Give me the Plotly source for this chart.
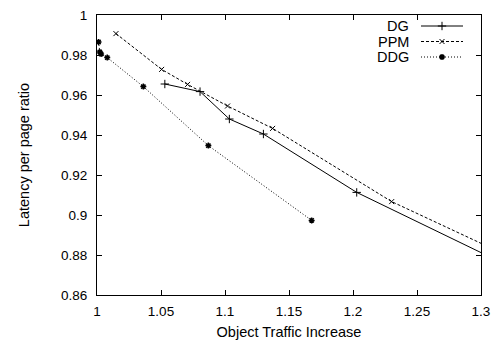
import plotly.graph_objects as go

# ---- data ----
dg_x = [1.053, 1.0805, 1.1034, 1.130, 1.2029, 1.35]
dg_y = [0.9655, 0.9617, 0.9480, 0.9405, 0.9113, 0.8657]

ppm_x = [1.0148, 1.0505, 1.0708, 1.1020, 1.1372, 1.2302, 1.35]
ppm_y = [0.9907, 0.9728, 0.9653, 0.9545, 0.9433, 0.9067, 0.8709]

ddg_x = [1.0012, 1.0022, 1.0032, 1.0080, 1.0362, 1.0870, 1.1677]
ddg_y = [0.9865, 0.9815, 0.9805, 0.9787, 0.9642, 0.9347, 0.8973]

x_ticks = [1, 1.05, 1.1, 1.15, 1.2, 1.25, 1.3]
y_ticks = [0.86, 0.88, 0.9, 0.92, 0.94, 0.96, 0.98, 1]

series_names = ["DG", "PPM", "DDG"]
dashes = ["solid", "3px,2px", "1px,2px"]
symbols = ["cross-thin-open", "x-thin-open", "asterisk-open"]
msizes = [6, 5, 5]
mwidths = [1, 1, 1.5]

FONT = "Liberation Sans, Arial, Helvetica, sans-serif"
TICK_SIZE = 13.5
TEXT_SIZE = 14.5

fig = go.Figure()
data = [(dg_x, dg_y), (ppm_x, ppm_y), (ddg_x, ddg_y)]
for (xs, ys), name, d, s, ms, mw in zip(data, series_names, dashes, symbols, msizes, mwidths):
    fig.add_trace(go.Scatter(
        x=xs, y=ys, mode="lines+markers", name=name,
        line=dict(color="black", width=1, dash=d),
        marker=dict(symbol=s, size=ms, color="black", line=dict(color="black", width=mw)),
        cliponaxis=True, showlegend=False,
    ))

# ---- gnuplot-style key (text left, sample right) on a pixel overlay axis ----
key_rows = [11, 26.5, 42]   # pixel offsets from plot top
for name, d, s, ms, mw, ky in zip(series_names, dashes, symbols, msizes, mwidths, key_rows):
    fig.add_trace(go.Scatter(
        x=[324, 366], y=[ky, ky], xaxis="x2", yaxis="y2", mode="lines",
        line=dict(color="black", width=1, dash=d), showlegend=False, hoverinfo="skip"))
    fig.add_trace(go.Scatter(
        x=[345], y=[ky], xaxis="x2", yaxis="y2", mode="markers",
        marker=dict(symbol=s, size=ms, color="black", line=dict(color="black", width=mw)),
        showlegend=False, hoverinfo="skip"))
    fig.add_annotation(x=314, y=ky, xref="x2", yref="y2", text=name, showarrow=False,
                       xanchor="right", yanchor="middle",
                       font=dict(family=FONT, size=TEXT_SIZE, color="black"))

axis_common = dict(
    showline=True, linecolor="black", linewidth=1, mirror="allticks",
    ticks="inside", ticklen=5, tickcolor="black", tickwidth=1,
    showgrid=False, zeroline=False, automargin=False,
    tickfont=dict(family=FONT, size=TICK_SIZE, color="black"),
)

fig.update_layout(
    width=500, height=347,
    margin=dict(l=97, r=19, t=15, b=52),
    paper_bgcolor="white", plot_bgcolor="white",
    font=dict(family=FONT, size=TICK_SIZE, color="black"),
    xaxis=dict(range=[1, 1.3], tickvals=x_ticks, ticklabelstandoff=4,
               title=dict(text="Object Traffic Increase", standoff=8,
                          font=dict(family=FONT, size=TEXT_SIZE, color="black")),
               **axis_common),
    yaxis=dict(range=[0.86, 1], tickvals=y_ticks, ticklabelstandoff=6,
               title=dict(text="Latency per page ratio", standoff=27,
                          font=dict(family=FONT, size=TEXT_SIZE, color="black")),
               **axis_common),
    xaxis2=dict(overlaying="x", range=[0, 384], visible=False, fixedrange=True),
    yaxis2=dict(overlaying="y", range=[280, 0], visible=False, fixedrange=True),
    showlegend=False,
)

fig.write_html("out.html", config={"displayModeBar": False},
               post_script="document.body.style.margin='0';")
